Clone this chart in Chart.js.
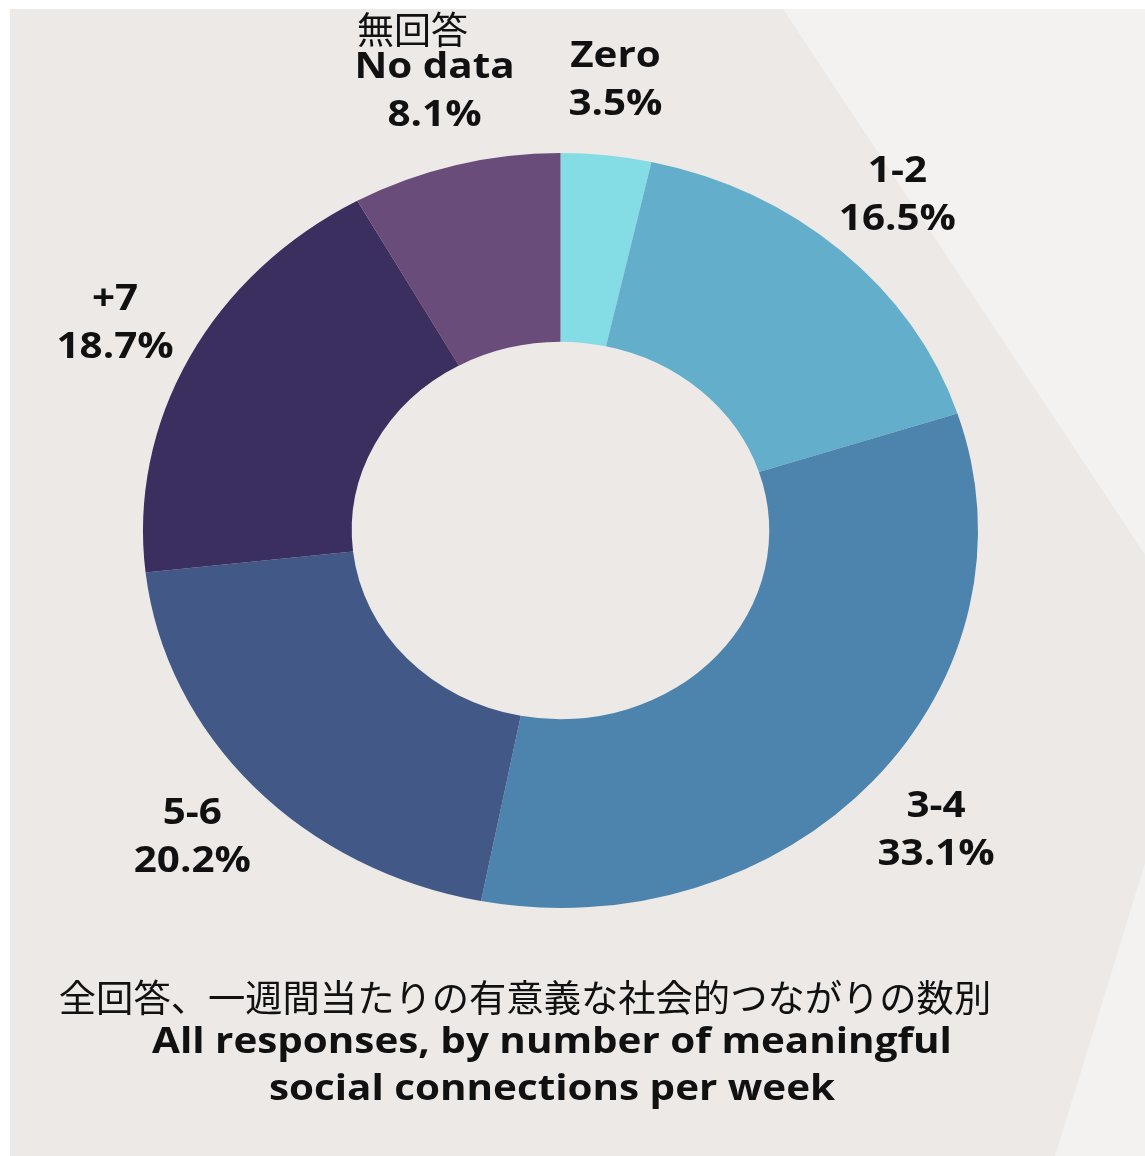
<!DOCTYPE html>
<html lang="ja">
<head>
<meta charset="utf-8">
<script src="https://cdn.jsdelivr.net/npm/chart.js@4.4.1/dist/chart.umd.min.js"></script>
<style>
  html, body { margin: 0; padding: 0; background: #fff; }
  #wrap { width: 1145px; height: 1156px; }
</style>
</head>
<body>
<div id="wrap"><canvas id="donut"></canvas></div>
<script>
const categories = ["Zero", "1-2", "3-4", "5-6", "+7", "No data"];
const jpCategories = ["", "", "", "", "", "無回答"];
const shares = [3.5, 16.5, 33.1, 20.2, 18.7, 8.1];
const sliceColors = ["#84dce5", "#63aecb", "#4c84ae", "#425886", "#3a2f5e", "#6a4c7b"];
const titleJa = "全回答、一週間当たりの有意義な社会的つながりの数別";
const titleEn = ["All responses, by number of meaningful", "social connections per week"];

// the source picture is stretched sideways, so the ring is an ellipse
const STRETCH = 1.106;
const INK = "#111";
const EN_FONT = "bold 36.5px 'Open Sans'";

const backdrop = {
  id: "backdrop",
  beforeDraw(chart) {
    const { ctx, width, height } = chart;
    ctx.save();
    ctx.fillStyle = "#fff";
    ctx.fillRect(0, 0, width, height);
    ctx.fillStyle = "#ece9e6";
    ctx.fillRect(10, 9, width - 10, height - 9);
    ctx.fillStyle = "#f3f2f1";
    ctx.beginPath();
    ctx.moveTo(783, 9);
    ctx.lineTo(width, 9);
    ctx.lineTo(width, 555);
    ctx.closePath();
    ctx.fill();
    ctx.beginPath();
    ctx.moveTo(width, 863);
    ctx.lineTo(width, height);
    ctx.lineTo(1055, height);
    ctx.closePath();
    ctx.fill();
    ctx.restore();
  }
};

const squash = {
  id: "squash",
  beforeDatasetsDraw(chart) {
    const arc = chart.getDatasetMeta(0).data[0];
    const ctx = chart.ctx;
    ctx.save();
    ctx.translate(arc.x, 0);
    ctx.scale(STRETCH, 1);
    ctx.translate(-arc.x, 0);
  },
  afterDatasetsDraw(chart) {
    chart.ctx.restore();
  }
};

function wideText(ctx, text, x, y) {
  ctx.save();
  ctx.translate(x, y);
  ctx.scale(STRETCH, 1);
  ctx.fillText(text, 0, 0);
  ctx.restore();
}

const sliceLabels = {
  id: "sliceLabels",
  afterDraw(chart) {
    const ctx = chart.ctx;
    ctx.save();
    ctx.fillStyle = INK;
    ctx.textAlign = "center";
    ctx.textBaseline = "middle";
    chart.getDatasetMeta(0).data.forEach((arc, i) => {
      const mid = (arc.startAngle + arc.endAngle) / 2;
      const r = arc.outerRadius * 1.2;
      const x = arc.x + Math.cos(mid) * r * STRETCH;
      const y = arc.y + Math.sin(mid) * r;
      ctx.font = EN_FONT;
      wideText(ctx, categories[i], x, y - 24);
      wideText(ctx, shares[i].toFixed(1) + "%", x, y + 24);
      if (jpCategories[i]) {
        ctx.font = "37px 'Noto Sans CJK JP'";
        ctx.fillText(jpCategories[i], x - 22, y - 62);
      }
    });

    ctx.font = "37.3px 'Noto Sans CJK JP'";
    ctx.fillText(titleJa, 525, 998);
    ctx.font = EN_FONT;
    wideText(ctx, titleEn[0], 552, 1043);
    wideText(ctx, titleEn[1], 552, 1090);
    ctx.restore();
  }
};

new Chart(document.getElementById("donut"), {
  type: "doughnut",
  data: {
    labels: categories,
    datasets: [{
      data: shares,
      backgroundColor: sliceColors,
      borderWidth: 0,
      hoverOffset: 0
    }]
  },
  options: {
    responsive: true,
    maintainAspectRatio: false,
    animation: false,
    cutout: "50%",
    layout: { padding: { top: 153, bottom: 248, left: 183, right: 207 } },
    plugins: {
      legend: { display: false },
      tooltip: { enabled: false }
    }
  },
  plugins: [backdrop, squash, sliceLabels]
});
</script>
</body>
</html>
